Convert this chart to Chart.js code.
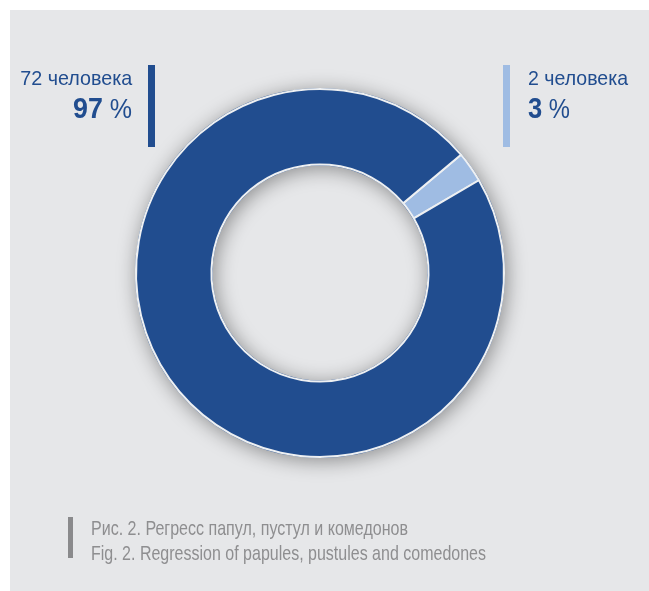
<!DOCTYPE html>
<html>
<head>
<meta charset="utf-8">
<script src="https://cdn.jsdelivr.net/npm/chart.js@4.4.1/dist/chart.umd.min.js"></script>
<style>
  html, body { margin: 0; padding: 0; background: #fff; }
  body { width: 649px; height: 591px; position: relative; overflow: hidden;
         font-family: "Liberation Sans", Arial, sans-serif; }
  #panel { position: absolute; left: 10px; top: 10px; width: 639px; height: 581px; background: #e6e7e9; }
  #chart { position: absolute; left: 0; top: 0; }
  .t { position: absolute; white-space: nowrap; line-height: 1; }
  .bar { position: absolute; }
</style>
</head>
<body>
<div id="panel"></div>
<canvas id="chart" width="649" height="591"></canvas>

<div class="bar" style="left:148px;top:65px;width:7px;height:82px;background:#214d8f"></div>
<div class="bar" style="left:503px;top:65px;width:7px;height:82px;background:#9fbce3"></div>
<div class="bar" style="left:68px;top:517px;width:5px;height:41px;background:#8a8a8c"></div>

<div id="l1" class="t"></div>
<div id="l2" class="t"></div>
<div id="r1" class="t"></div>
<div id="r2" class="t"></div>
<div id="c1" class="t"></div>
<div id="c2" class="t"></div>

<script>
// chart values
const groups = ['2 человека', '72 человека'];
const people = [2, 72];
const percents = [3, 97];
const segColors = ['#9fbce3', '#214d8f'];
const captionLines = [
  'Рис. 2. Регресс папул, пустул и комедонов',
  'Fig. 2. Regression of papules, pustules and comedones'
];

// soft shadow under the whole ring, drawn before the arcs so it never tints them
const ringShadow = {
  id: 'ringShadow',
  beforeDatasetsDraw(chart) {
    const arc = chart.getDatasetMeta(0).data[0];
    if (!arc) return;
    const { x, y, outerRadius, innerRadius } = arc.getProps(['x', 'y', 'outerRadius', 'innerRadius'], true);
    const ctx = chart.ctx;
    ctx.save();
    ctx.shadowColor = 'rgba(0,0,0,0.4)';
    ctx.shadowBlur = 20;
    ctx.shadowOffsetX = 2;
    ctx.shadowOffsetY = 3;
    ctx.beginPath();
    ctx.arc(x, y, outerRadius + 1, 0, Math.PI * 2);
    ctx.arc(x, y, innerRadius - 1, 0, Math.PI * 2, true);
    ctx.fillStyle = '#214d8f';
    ctx.fill();
    ctx.restore();
  }
};

const ctx = document.getElementById('chart').getContext('2d');
const myChart = new Chart(ctx, {
  type: 'doughnut',
  data: {
    labels: groups,
    datasets: [{
      data: people,
      backgroundColor: segColors,
      borderColor: '#eef0f2',
      borderWidth: 2
    }]
  },
  options: {
    responsive: false,
    animation: false,
    events: [],
    devicePixelRatio: 1,
    rotation: 50,
    cutout: '59%',
    layout: { padding: { left: 135, right: 144, top: 88, bottom: 133 } },
    plugins: { legend: { display: false }, tooltip: { enabled: false } }
  },
  plugins: [ringShadow]
});

// text placement: baseline y, anchor x, target width (squeezed to look condensed)
function place(id, html, size, color, x, baseline, align, width) {
  const el = document.getElementById(id);
  el.innerHTML = html;
  el.style.fontSize = size + 'px';
  el.style.color = color;
  el.style.top = (baseline - size * 0.8465) + 'px';
  const w = el.getBoundingClientRect().width;
  const s = width ? width / w : 1;
  el.style.transformOrigin = align === 'right' ? 'right top' : 'left top';
  el.style.transform = 'scaleX(' + s + ')';
  el.style.left = (align === 'right' ? x - w : x) + 'px';
}

place('l1', groups[1], 21, '#214d8f', 132, 85, 'right', 112);
place('l2', '<b style="font-size:30px">' + percents[1] + '</b> %', 28, '#214d8f', 132, 117, 'right', 59);
place('r1', groups[0], 21, '#214d8f', 528, 85, 'left', 100);
place('r2', '<b style="font-size:30px">' + percents[0] + '</b> %', 28, '#214d8f', 528, 117, 'left', 42);
place('c1', captionLines[0], 21, '#8e8e90', 91, 535, 'left', 317);
place('c2', captionLines[1], 21, '#8e8e90', 91, 560, 'left', 395);
</script>
</body>
</html>
